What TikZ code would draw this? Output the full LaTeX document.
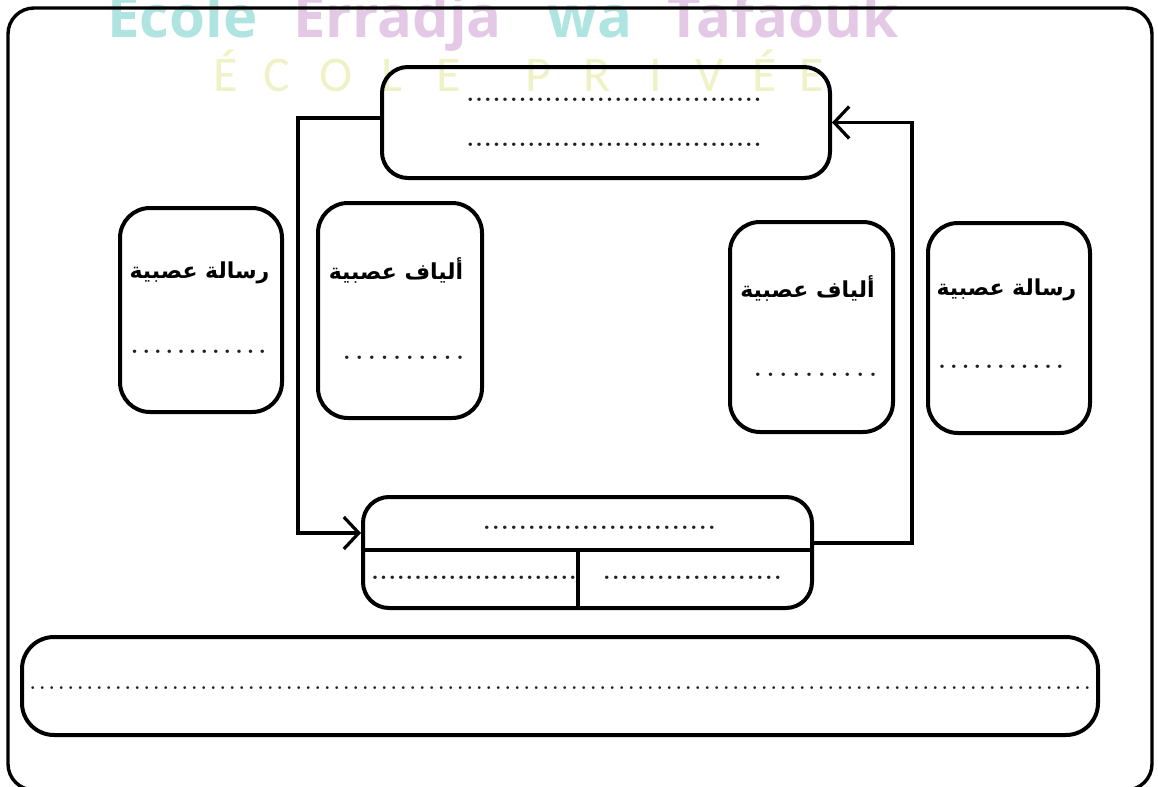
\documentclass[tikz,border=0pt]{standalone}
\usepackage{fontspec}
\usetikzlibrary{arrows.meta}
\TeXXeTstate=1
\newfontfamily\arabicfont[Script=Arabic]{DejaVu Sans}
\newfontfamily\wmfont{Open Sans}
\newfontfamily\wmthin{Carlito}
\definecolor{wmteal}{HTML}{B0E4E0}
\definecolor{wmpink}{HTML}{E4C9E6}
\definecolor{wmyel}{HTML}{EFF2C6}
\definecolor{dotgray}{HTML}{202020}
\newcount\dotcnt
\newcommand\dotrow[2]{\dotcnt=#1\relax\loop\hbox to #2{\hss.\hss}\advance\dotcnt by -1 \ifnum\dotcnt>0 \repeat}
\begin{document}
\begin{tikzpicture}[x=0.5pt,y=-0.5pt,
  box/.style={draw, line width=2pt, rounded corners=14pt, inner sep=0pt},
  conn/.style={line width=1.6pt},
  arr/.style={-{Straight Barb[length=7.5pt,width=16pt]}},
  title/.style={font=\arabicfont\bfseries\fontsize{11}{13}\selectfont, inner sep=0pt},
  dotsty/.style={font=\bfseries\fontsize{12}{12}\selectfont, text=dotgray, inner sep=0pt}]
\useasboundingbox (0,0) rectangle (1158,787);
% watermark
\node[anchor=base west, inner sep=0pt, text=wmteal, font=\wmfont\bfseries\fontsize{29}{30}\selectfont] (wm1) at (107,38) {Ecole};
\node[anchor=base west, inner sep=0pt, text=wmpink, font=\wmfont\bfseries\fontsize{29}{30}\selectfont] (wm2) at (293,38) {Erradja};
\node[anchor=base west, inner sep=0pt, text=wmteal, font=\wmfont\bfseries\fontsize{29}{30}\selectfont] (wm3) at (547,38) {wa};
\node[anchor=base west, inner sep=0pt, text=wmpink, font=\wmfont\bfseries\fontsize{29}{30}\selectfont] (wm4) at (667,38) {Tafaouk};
\foreach \x/\l [count=\i] in {226/É,277/C,336/O,392/L,449/E,538/P,597/R,656/I,710/V,765/É,812/E}
  \node[anchor=base, inner sep=0pt, text=wmyel, font=\wmthin\fontsize{25}{26}\selectfont] (wl\i) at (\x,91) {\l};
% frame
\node[draw, line width=1.7pt, rounded corners=13pt, inner sep=0pt, minimum width=572pt, minimum height=391pt] (frame) at (580,399) {};
% boxes
\node[box, minimum width=224pt, minimum height=55.5pt, rounded corners=13pt] (top) at (606,122.5) {};
\node[box, minimum width=81pt, minimum height=102pt, rounded corners=15pt] (lm) at (201,310) {};
\node[box, minimum width=82pt, minimum height=107.5pt, rounded corners=15pt] (lf) at (400,310.5) {};
\node[box, minimum width=81.5pt, minimum height=105pt, rounded corners=15pt] (rf) at (811.5,327) {};
\node[box, minimum width=81pt, minimum height=105pt, rounded corners=15pt] (rm) at (1009,328) {};
\node[box, minimum width=224.5pt, minimum height=55.5pt, rounded corners=13pt] (bot) at (587.5,552.5) {};
\node[box, minimum width=538pt, minimum height=49pt, rounded corners=16pt] (wide) at (560,686) {};
% dividers in bottom box
\draw[line width=1.6pt] ([yshift=1.25pt]bot.west) -- ([yshift=1.25pt]bot.east);
\draw[line width=1.6pt] ([xshift=-4.75pt,yshift=1.25pt]bot.center) -- ([xshift=-4.75pt]bot.south);
% titles
\node[title] (lmt) at (199.5,273) {\beginR رسالة عصبية\endR};
\node[title] (lft) at (396,270) {\beginR ألياف عصبية\endR};
\node[title] (rft) at (807.5,288) {\beginR ألياف عصبية\endR};
\node[title] (rmt) at (1006.5,290) {\beginR رسالة عصبية\endR};
% dotted lines
\node[dotsty] (topd1) at (614,100) {\dotrow{34}{4.35pt}};
\node[dotsty] (topd2) at (614,145) {\dotrow{34}{4.35pt}};
\node[dotsty] (lmd) at (198.5,352) {\dotrow{12}{5.8pt}};
\node[dotsty] (lfd) at (403.5,358) {\dotrow{10}{6.3pt}};
\node[dotsty] (rfd) at (815.5,375) {\dotrow{10}{6.4pt}};
\node[dotsty] (rmd) at (1001,367) {\dotrow{11}{5.9pt}};
\node[dotsty] (botd) at (599.5,528) {\dotrow{26}{4.5pt}};
\node[dotsty] (botl) at (474,578) {\dotrow{24}{4.3pt}};
\node[dotsty] (botr) at (692.5,578) {\dotrow{20}{4.5pt}};
\node[dotsty, font=\bfseries\fontsize{9}{10}\selectfont] (wided) at (560,688) {\dotrow{112}{4.75pt}};
% connectors
\coordinate (lc) at (298,300);
\coordinate (rc) at (912,300);
\draw[conn, arr] ([yshift=2.25pt]top.west) -| (lc) |- ([yshift=9.75pt]bot.west);
\draw[conn, arr] ([yshift=4.75pt]bot.east) -| (rc) |- (top.east);
\end{tikzpicture}
\end{document}
